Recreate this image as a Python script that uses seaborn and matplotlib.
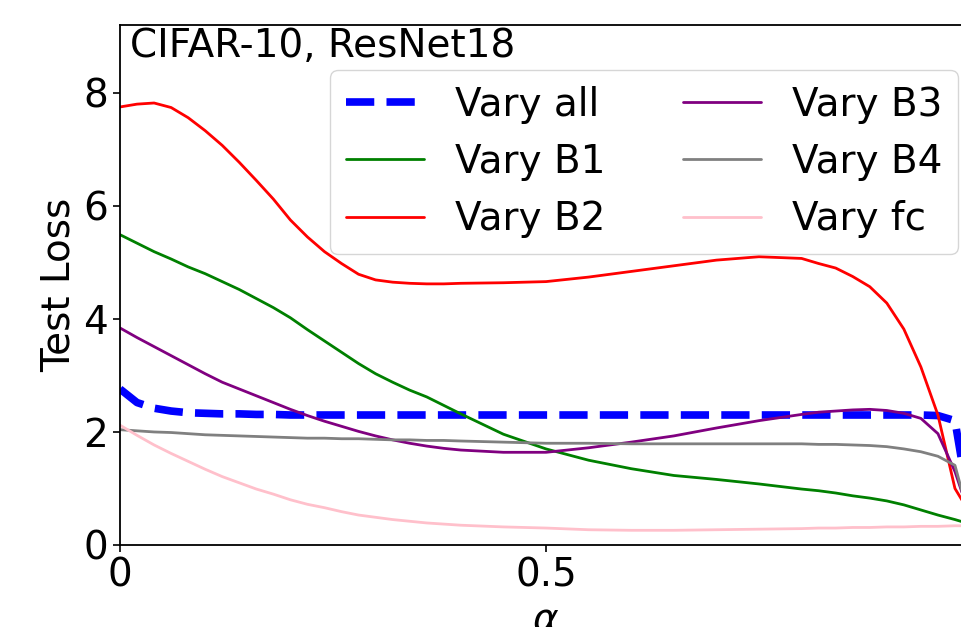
import matplotlib
matplotlib.use("Agg")
import matplotlib.pyplot as plt
import seaborn as sns

# alpha grid shared by every curve
alpha = [0, 0.02, 0.04, 0.06, 0.08, 0.1, 0.12, 0.14, 0.16, 0.18, 0.2, 0.22, 0.24, 0.26, 0.28,
         0.3, 0.32, 0.34, 0.36, 0.38, 0.4,
         0.45, 0.5, 0.55, 0.6, 0.65, 0.7, 0.75, 0.8,
         0.82, 0.84, 0.86, 0.88, 0.9, 0.92, 0.94, 0.96, 0.98, 1.0]

vary_all = [2.76, 2.52, 2.42, 2.37, 2.34, 2.33, 2.32, 2.32, 2.31, 2.31, 2.3, 2.3, 2.3, 2.3, 2.3,
            2.3, 2.3, 2.3, 2.3, 2.3, 2.3,
            2.3, 2.3, 2.3, 2.3, 2.3, 2.3, 2.3, 2.3,
            2.3, 2.3, 2.3, 2.3, 2.3, 2.3, 2.3, 2.29, 2.2, 0.4]
vary_b1 = [5.49, 5.34, 5.19, 5.06, 4.92, 4.8, 4.66, 4.52, 4.36, 4.2, 4.02, 3.81, 3.61, 3.41, 3.21,
           3.03, 2.88, 2.74, 2.62, 2.47, 2.32,
           1.96, 1.7, 1.5, 1.35, 1.23, 1.16, 1.08, 0.99,
           0.96, 0.92, 0.87, 0.83, 0.78, 0.71, 0.62, 0.53, 0.45, 0.36]
vary_b2 = [7.75, 7.8, 7.82, 7.74, 7.56, 7.33, 7.07, 6.77, 6.45, 6.12, 5.75, 5.45, 5.19, 4.98, 4.79,
           4.69, 4.65, 4.63, 4.62, 4.62, 4.63,
           4.64, 4.66, 4.74, 4.84, 4.94, 5.04, 5.1, 5.07,
           4.98, 4.9, 4.75, 4.57, 4.28, 3.82, 3.15, 2.3, 1.0, 0.5]
vary_b3 = [3.84, 3.67, 3.51, 3.35, 3.19, 3.03, 2.88, 2.76, 2.64, 2.52, 2.4, 2.29, 2.19, 2.1, 2.01,
           1.93, 1.86, 1.8, 1.75, 1.71, 1.68,
           1.64, 1.64, 1.72, 1.82, 1.93, 2.07, 2.2, 2.31,
           2.35, 2.37, 2.39, 2.4, 2.38, 2.33, 2.24, 1.97, 1.3, 0.4]
vary_b4 = [2.04, 2.02, 2.0, 1.99, 1.97, 1.95, 1.94, 1.93, 1.92, 1.91, 1.9, 1.89, 1.89, 1.88, 1.88,
           1.87, 1.86, 1.86, 1.85, 1.85, 1.84,
           1.82, 1.8, 1.8, 1.79, 1.79, 1.79, 1.79, 1.79,
           1.78, 1.78, 1.77, 1.76, 1.74, 1.7, 1.65, 1.57, 1.41, 0.3]
vary_fc = [2.12, 1.94, 1.77, 1.62, 1.48, 1.34, 1.21, 1.1, 0.99, 0.9, 0.8, 0.72, 0.66, 0.59, 0.53,
           0.49, 0.45, 0.42, 0.39, 0.37, 0.35,
           0.32, 0.3, 0.27, 0.26, 0.26, 0.27, 0.28, 0.29,
           0.3, 0.3, 0.31, 0.31, 0.32, 0.32, 0.33, 0.33, 0.34, 0.34]

series = [
    ("Vary all", vary_all, "blue", "--", 5.5),
    ("Vary B1", vary_b1, "green", "-", 2),
    ("Vary B2", vary_b2, "red", "-", 2),
    ("Vary B3", vary_b3, "purple", "-", 2),
    ("Vary B4", vary_b4, "gray", "-", 2),
    ("Vary fc", vary_fc, "pink", "-", 2),
]

sns.set_style("ticks", {"axes.edgecolor": "black", "xtick.color": "black", "ytick.color": "black",
                        "text.color": "black", "axes.labelcolor": "black"})
plt.rcParams["font.family"] = ["DejaVu Sans"]
fs = 28

fig = plt.figure(figsize=(9.62, 6.27), dpi=100)
# the axes run a little past the right edge of the figure, like the cropped original
ax = fig.add_axes([120 / 962, 82 / 627, 852 / 962, 520 / 627])

for name, vals, col, ls, lw in series:
    sns.lineplot(x=alpha, y=vals, color=col, linestyle=ls, linewidth=lw, label=name, ax=ax)

ax.set_xlim(0, 1)
ax.set_ylim(0, 9.2)
ax.set_xticks([0, 0.5])
ax.set_xticklabels(["0", "0.5"])
ax.set_yticks([0, 2, 4, 6, 8])
ax.tick_params(labelsize=fs, width=1.2, length=5, labelcolor="black")
for s in ax.spines.values():
    s.set_linewidth(1.3)
ax.set_xlabel(r"$\alpha$", fontsize=fs, color="black")
ax.set_ylabel("Test Loss", fontsize=fs, color="black")

leg = ax.legend(ncol=2, fontsize=fs, loc="upper right", bbox_to_anchor=(958 / 962, 1 - 70 / 627),
                bbox_transform=fig.transFigure, borderaxespad=0)
for t in leg.get_texts():
    t.set_color("black")

fig.text(130 / 962, 1 - 27 / 627, "CIFAR-10, ResNet18", fontsize=fs, va="top", ha="left", color="black")

fig.savefig("out.png", dpi=100)
